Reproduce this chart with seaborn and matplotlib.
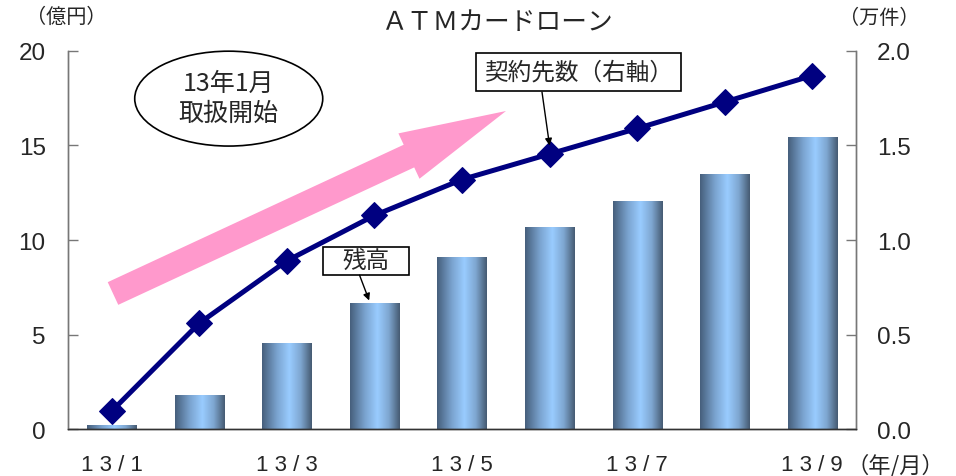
import numpy as np
import seaborn as sns
import matplotlib.pyplot as plt
from matplotlib.patches import Ellipse, FancyArrow, Rectangle
from matplotlib.colors import LinearSegmentedColormap

months = ['13/1', '13/2', '13/3', '13/4', '13/5', '13/6', '13/7', '13/8', '13/9']
balance = [0.2, 1.8, 4.55, 6.65, 9.1, 10.7, 12.05, 13.5, 15.45]      # 億円 (left)
contracts = [0.095, 0.56, 0.89, 1.13, 1.32, 1.455, 1.59, 1.73, 1.87]  # 万件 (right)

sns.set_style('white')
plt.rcParams['font.family'] = ['Liberation Sans', 'Noto Sans CJK JP', 'DejaVu Sans']
JP = ['Noto Sans CJK JP', 'DejaVu Sans']

fig, ax = plt.subplots(figsize=(9.56, 4.77), dpi=100)
fig.subplots_adjust(left=0.0711, right=0.8954, bottom=0.0985, top=0.891)

pos = np.arange(len(months))

# bars with a horizontal gradient
sns.barplot(x=months, y=balance, ax=ax, width=0.56, color='#99ccff', zorder=2)
bar_cmap = LinearSegmentedColormap.from_list(
    'bar', [(0, '#465f7c'), (0.3, '#7aa3cf'), (0.55, '#99ccff'), (0.78, '#7ea6d0'), (1, '#465b72')])
grad = np.linspace(0, 1, 200).reshape(1, -1)
for p in ax.patches:
    x0, y0, w, h = p.get_x(), p.get_y(), p.get_width(), p.get_height()
    im = ax.imshow(grad, extent=[x0, x0 + w, y0, y0 + h], aspect='auto',
                   cmap=bar_cmap, zorder=2.1, interpolation='bilinear')
    im.set_clip_path(p)
ax.set_xlim(-0.5, len(months) - 0.5)
ax.set_ylim(0, 20)
ax.set_yticks([0, 5, 10, 15, 20])

ax.set_xticks(pos)
ax.set_xticklabels([' '.join(m) if i % 2 == 0 else '' for i, m in enumerate(months)])
ax.set_xticks(pos[:-1] + 0.5, minor=True)
ax.tick_params(axis='x', which='major', length=0, pad=18, labelsize=16)
ax.tick_params(axis='x', which='minor', direction='in', length=7, width=1, color='#555555')
ax.tick_params(axis='y', direction='in', length=7, width=1, color='#777777', pad=16, labelsize=17.5, left=True)
ax.set_xlabel('')
ax.set_ylabel('')

# line on the right axis
ax2 = ax.twinx()
sns.lineplot(x=pos, y=contracts, ax=ax2, color='#000080', linewidth=3.6,
             marker='D', markersize=13.5, markeredgecolor='#000080', zorder=5)
ax2.set_ylim(0, 2.0)
ax2.set_yticks([0.0, 0.5, 1.0, 1.5, 2.0])
ax2.set_yticklabels([f'{v:.1f}' for v in [0.0, 0.5, 1.0, 1.5, 2.0]])
ax2.tick_params(axis='y', direction='in', length=7, width=1, color='#777777', pad=15, labelsize=17.5, right=True)
ax2.set_ylabel('')

for a in (ax, ax2):
    a.spines['top'].set_visible(False)
    a.spines['left'].set_color('#777777')
    a.spines['right'].set_color('#777777')
    a.spines['bottom'].set_color('#333333')
    for s in ('left', 'right', 'bottom'):
        a.spines[s].set_linewidth(1)

# big pink arrow
pink = FancyArrow(1.13, 1.825, 3.93, 1.825, width=0.25, head_width=0.50, head_length=1.07,
                  length_includes_head=True, color='#ff99cc', lw=0,
                  transform=fig.dpi_scale_trans, clip_on=False, zorder=1)
ax.add_patch(pink)

# ellipse note
ax.add_patch(Ellipse((0.204, 0.874), 0.2386, 0.251, transform=ax.transAxes,
                     facecolor='white', edgecolor='black', lw=1.2, clip_on=False, zorder=3))
ax.text(0.204, 0.877, '13年1月\n取扱開始', transform=ax.transAxes, ha='center', va='center',
        fontsize=18, linespacing=1.2, zorder=4, family=JP)

# callouts
ax2.annotate('契約先数（右軸）', xy=(5, 1.5), xycoords='data',
             xytext=(0.648, 0.944), textcoords='axes fraction', ha='center', va='center',
             fontsize=17, family=JP,
             bbox=dict(boxstyle='square,pad=0.33', fc='white', ec='black', lw=1.2),
             arrowprops=dict(arrowstyle='-|>', color='black', lw=1, mutation_scale=10,
                             relpos=(0.3, 0), shrinkA=0, shrinkB=0), zorder=6)

ax2.add_patch(Rectangle((255 / 788, (430 - 276) / 378), 86 / 788, 28 / 378, transform=ax2.transAxes,
                        fc='white', ec='black', lw=1.2, zorder=6))
ax2.annotate('残高', xy=(2.94, 6.8 / 10), xycoords='data',
             xytext=(0.379, 0.444), textcoords='axes fraction', ha='center', va='center',
             fontsize=17, family=JP, zorder=7)
ax2.annotate('', xy=(2.94, 6.8 / 10), xycoords='data',
             xytext=(0.37, 0.407), textcoords='axes fraction',
             arrowprops=dict(arrowstyle='-|>', color='black', lw=1, mutation_scale=10,
                             shrinkA=0, shrinkB=0), zorder=7)

fig.text(498 / 956, 1 - 23 / 477, 'ＡＴＭカードローン', ha='center', va='center', fontsize=18.5, family=JP)
fig.text(66 / 956, 1 - 17 / 477, '（億円）', ha='center', va='center', fontsize=14.5, family=JP)
fig.text(879 / 956, 1 - 19 / 477, '（万件）', ha='center', va='center', fontsize=14.5, family=JP)
fig.text(847 / 956, 1 - 466 / 477, '（年/月）', ha='left', va='center', fontsize=16, family=JP)

fig.savefig('out.png', dpi=100)
